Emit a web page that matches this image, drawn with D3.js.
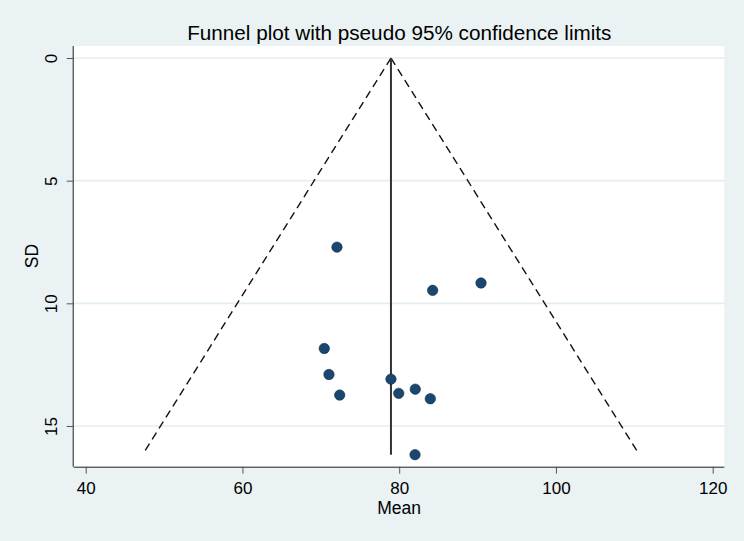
<!DOCTYPE html>
<html><head><meta charset="utf-8">
<script src="https://cdn.jsdelivr.net/npm/d3@7"></script>
<style>
html,body{margin:0;padding:0;background:#eaf2f3;}
svg{display:block;}
text{font-family:"Liberation Sans",Arial,sans-serif;fill:#000;}
</style></head>
<body><div id="chart"></div>
<script>
// Study data (Mean vs SD)
const means = [72.06, 84.27, 90.44, 70.44, 71.04, 72.41, 78.95, 79.94, 82.05, 83.97, 82.02];
const sds   = [7.71, 9.47, 9.17, 11.84, 12.90, 13.74, 13.09, 13.67, 13.50, 13.89, 16.17];
// pooled estimate line and pseudo 95% limits
const pooledMean = 78.95;
const pooledSD = [0, 16.17];
const funnelSD = [0, 16.17];
const funnelLower = [78.95, 47.26];
const funnelUpper = [78.95, 110.64];
const xTicks = [40, 60, 80, 100, 120];
const yTicks = [0, 5, 10, 15];
const title = "Funnel plot with pseudo 95% confidence limits";

const W = 744, H = 541;
const L = 73.7, R = 724.3, T = 46, B = 466.7;
const svg = d3.select("#chart").append("svg").attr("width", W).attr("height", H);
svg.append("rect").attr("width", W).attr("height", H).attr("fill", "#eaf2f3");

const x = d3.scaleLinear().domain([38.47, 121.48]).range([L, R]);
const y = d3.scaleLinear().domain([-0.49, 16.66]).range([T, B]);

svg.append("rect").attr("x", L).attr("y", T).attr("width", R - L).attr("height", B - T).attr("fill", "#fff");

// gridlines
svg.append("g").selectAll("line").data(yTicks).join("line")
  .attr("x1", L).attr("x2", R + 1).attr("y1", d => y(d)).attr("y2", d => y(d))
  .attr("stroke", "#e4eef0").attr("stroke-width", 1.6);

// funnel
const lineGen = d3.line().x(d => x(d[0])).y(d => y(d[1]));
[funnelLower, funnelUpper].forEach(arr => {
  svg.append("path").datum(arr.map((v, i) => [v, funnelSD[i]]))
    .attr("d", lineGen).attr("fill", "none").attr("stroke", "#111")
    .attr("stroke-width", 1.4).attr("stroke-dasharray", "8,5");
});
svg.append("path").datum(pooledSD.map(s => [pooledMean, s]))
  .attr("d", lineGen).attr("fill", "none").attr("stroke", "#333").attr("stroke-width", 2);

// points
svg.append("g").selectAll("circle").data(means.map((m, i) => [m, sds[i]])).join("circle")
  .attr("cx", d => x(d[0])).attr("cy", d => y(d[1])).attr("r", 5.2)
  .attr("fill", "#1a476f").attr("stroke", "#0e2a45").attr("stroke-width", 0.6);

// axes
const xAxis = d3.axisBottom(x).tickValues(xTicks).tickSize(7).tickPadding(8).tickFormat(d3.format("d"));
const gx = svg.append("g").attr("transform", `translate(0,${B})`).call(xAxis);
gx.select(".domain").attr("d", `M${L},0.5H${R}`).attr("stroke", "#222");
gx.selectAll(".tick line").attr("stroke", "#555");
gx.selectAll(".tick text").attr("font-size", 17).attr("font-family", "Liberation Sans, Arial, sans-serif").attr("fill", "#000");

const yAxis = d3.axisLeft(y).tickValues(yTicks).tickSize(7).tickFormat(d3.format("d"));
const gy = svg.append("g").attr("transform", `translate(${L},0)`).call(yAxis);
gy.select(".domain").attr("d", `M-0.5,${T}V${B}`).attr("stroke", "#222");
gy.selectAll(".tick line").attr("stroke", "#555");
gy.selectAll(".tick text").attr("font-size", 17).attr("font-family", "Liberation Sans, Arial, sans-serif").attr("fill", "#000")
  .attr("x", null).attr("dy", null)
  .attr("transform", "translate(-16.4,0) rotate(-90)").attr("text-anchor", "middle").attr("dy", "0em");

svg.append("text").attr("x", 399.3).attr("y", 40).attr("text-anchor", "middle")
  .attr("font-size", 20.7).text(title);
svg.append("text").attr("x", x(80)).attr("y", 514.3).attr("text-anchor", "middle")
  .attr("font-size", 17.5).text("Mean");
svg.append("text").attr("transform", `translate(37.5,256) rotate(-90)`).attr("text-anchor", "middle")
  .attr("font-size", 17.5).text("SD");
</script></body></html>
